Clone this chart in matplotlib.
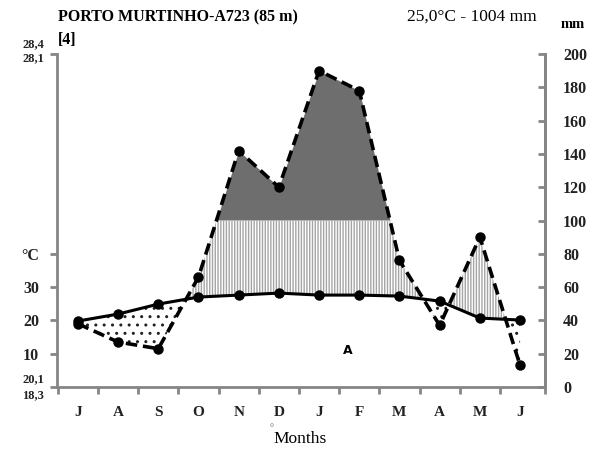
import numpy as np
import matplotlib
matplotlib.use("Agg")
import matplotlib.pyplot as plt

# ---- data ----
months = ["J", "A", "S", "O", "N", "D", "J", "F", "M", "A", "M", "J"]
temp_c = [19.8, 21.9, 24.9, 27.0, 27.6, 28.2, 27.6, 27.6, 27.3, 25.8, 20.7, 20.1]
precip_mm = [38, 27, 23, 66, 142, 120, 190, 178, 76, 37, 90, 13]
right_ticks = [0, 20, 40, 60, 80, 100, 120, 140, 160, 180, 200]
left_tick_mm = [0, 20, 40, 60, 80, 200]
left_tick_labels = ["", "10", "20", "30", "°C", ""]

title = "PORTO MURTINHO-A723 (85 m)"
subtitle = "[4]"
summary = "25,0°C - 1004 mm"

plt.rcParams["font.family"] = ["Liberation Serif", "DejaVu Serif"]
plt.rcParams["hatch.linewidth"] = 1.0

fig = plt.figure(figsize=(5.96, 4.57), dpi=100)
ax = fig.add_axes([0.0956, 0.1532, 0.8188, 0.7286])

x = np.arange(len(months))
T = np.array(temp_c) * 2.0          # 10 °C = 20 mm
P = np.array(precip_mm, dtype=float)

# dense polygon of the plotted lines, for fills
xf = np.linspace(0, len(months) - 1, 2201)
Tf = np.interp(xf, x, T)
Pf = np.interp(xf, x, P)

# fills
ax.fill_between(xf, 100, Pf, where=Pf > 100, color="#6e6e6e", linewidth=0, zorder=1)
ax.fill_between(xf, Tf, np.minimum(Pf, 100), where=Pf > Tf, facecolor="white",
                edgecolor="#a5a5a5", hatch="||||||", linewidth=0, zorder=1)
ax.fill_between(xf, Pf, Tf, where=Pf < Tf, facecolor="white",
                edgecolor="#222222", hatch="..", linewidth=0, zorder=1)

# lines
ax.plot(x, P, color="black", lw=2.6, ls=(0, (3.2, 1.6)), marker="o", ms=6.5, zorder=3)
ax.plot(x, T, color="black", lw=2.2, ls="-", marker="o", ms=6.5, zorder=4)

ax.set_ylim(0, 200)
ax.set_xlim(-0.52, 11.62)

gray = "#858585"
for s in ["left", "right", "bottom"]:
    ax.spines[s].set_color(gray)
    ax.spines[s].set_linewidth(2.0)
ax.spines["top"].set_visible(False)

# x axis
ax.set_xticks(x)
ax.set_xticklabels(months, fontsize=11, fontweight="bold", color="#222222")
ax.tick_params(axis="x", which="major", length=0, pad=14)
ax.set_xticks(list(np.arange(-0.5, 11, 1.0)) + [11.62], minor=True)
ax.tick_params(axis="x", which="minor", length=5, width=2, color=gray, direction="out")

# left axis (temperature)
ax.set_yticks(left_tick_mm)
ax.set_yticklabels(left_tick_labels, fontsize=11.5, fontweight="bold", color="#222222")
ax.tick_params(axis="y", which="major", length=5, width=2, color=gray, direction="out", pad=8)

# right axis (precipitation)
ax2 = ax.twinx()
ax2.set_position(ax.get_position())
ax2.set_ylim(0, 200)
ax2.set_yticks(right_ticks)
ax2.set_yticklabels([str(v) for v in right_ticks], fontsize=11.5, fontweight="bold", color="#222222")
ax2.tick_params(axis="y", length=5, width=2, color=gray, direction="in", pad=13)
for s in ["left", "right", "bottom", "top"]:
    ax2.spines[s].set_visible(False)
ax2.spines["right"].set_visible(True)
ax2.spines["right"].set_color(gray)
ax2.spines["right"].set_linewidth(2.0)

# texts
W, H = 596, 457
def ftext(px, py, s, **kw):
    fig.text(px / W, 1 - py / H, s, **kw)

ftext(58, 17, title, fontsize=11.5, fontweight="bold", va="center", ha="left")
ftext(58, 40, subtitle, fontsize=11.5, fontweight="bold", va="center", ha="left")
ftext(537, 17, summary, fontsize=12.5, va="center", ha="right")
ftext(573, 25, "mm", fontsize=10.5, fontweight="bold", va="center", ha="center")
ftext(33, 44, "28,4", fontsize=9, fontweight="bold", va="center", ha="center", color="#222222")
ftext(33, 58, "28,1", fontsize=9, fontweight="bold", va="center", ha="center", color="#222222")
ftext(33, 379, "20,1", fontsize=9, fontweight="bold", va="center", ha="center", color="#222222")
ftext(33, 395, "18,3", fontsize=9, fontweight="bold", va="center", ha="center", color="#222222")
ftext(300, 439, "Months", fontsize=12.5, va="center", ha="center")
ftext(271, 429, "°", fontsize=7, va="center", ha="center", color="#555555")
ftext(348, 350, "A", fontsize=9, fontweight="bold", va="center", ha="center",
      family=["DejaVu Sans"])

fig.savefig("out.png", dpi=100)
